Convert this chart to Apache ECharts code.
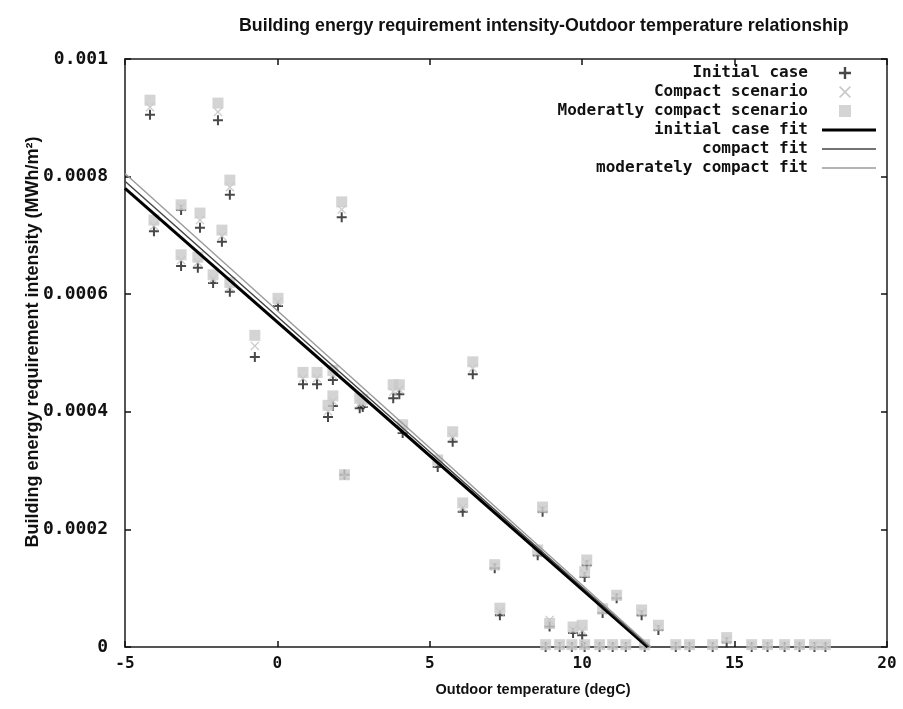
<!DOCTYPE html>
<html>
<head>
<meta charset="utf-8">
<script src="https://cdn.jsdelivr.net/npm/echarts@6/dist/echarts.min.js"></script>
<style>
  html, body { margin: 0; padding: 0; background: #fff; }
  #chart-panel { width: 903px; height: 709px; }
</style>
</head>
<body>
<div id="chart-panel"></div>
<script>
// outdoor temperature (degC) for each sample
var temps = [
  -4.18, -4.05, -3.16, -3.16, -2.61, -2.54, -2.11, -1.95, -1.82, -1.56,
  -1.56, -0.74, 0.02, 0.84, 1.30, 1.82, 1.66, 1.82, 2.11, 2.20,
  2.70, 2.80, 3.80, 4.00, 4.11, 5.75, 5.26, 6.08, 6.41, 7.30,
  7.13, 8.70, 8.54, 10.15, 10.08, 9.70, 10.00, 11.13, 10.67, 11.95,
  12.50, 8.93, 8.80, 9.26, 9.66, 10.08, 10.57, 11.00, 11.43, 12.05,
  13.07, 13.52, 14.28, 14.74, 15.56, 16.08, 16.64, 17.13, 17.62, 17.98
];
var initialCase = [
  0.000905, 0.000707, 0.000743, 0.000648, 0.000645, 0.000713, 0.000619, 0.000896, 0.000689, 0.000604,
  0.000769, 0.000493, 0.000580, 0.000447, 0.000447, 0.000454, 0.000391, 0.000410, 0.000731, 0.000293,
  0.000406, 0.000408, 0.000423, 0.000430, 0.000364, 0.000349, 0.000306, 0.000230, 0.000464, 0.000054,
  0.000134, 0.000230, 0.000156, 0.000139, 0.000119, 0.000024, 0.000020, 0.000083, 0.000058, 0.000054,
  0.000029, 0.000035, 0, 0, 0, 0, 0, 0, 0, 0,
  0, 0, 0, 0.000008, 0, 0, 0, 0, 0, 0
];
var compactScenario = [
  0.000918, 0.000716, 0.000748, 0.000658, 0.000654, 0.000726, 0.000626, 0.000910, 0.000699, 0.000612,
  0.000782, 0.000512, 0.000587, 0.000457, 0.000457, 0.000462, 0.000401, 0.000418, 0.000744, 0.000291,
  0.000414, 0.000415, 0.000434, 0.000438, 0.000371, 0.000357, 0.000312, 0.000237, 0.000474, 0.000060,
  0.000137, 0.000234, 0.000160, 0.000143, 0.000124, 0.000029, 0.000028, 0.000086, 0.000062, 0.000058,
  0.000033, 0.000046, 0.000002, 0.000003, 0.000002, 0.000003, 0.000002, 0.000002, 0.000003, 0.000002,
  0.000003, 0.000002, 0.000003, 0.000012, 0.000002, 0.000003, 0.000002, 0.000002, 0.000003, 0.000002
];
var moderatelyCompact = [
  0.000930, 0.000726, 0.000752, 0.000667, 0.000663, 0.000738, 0.000633, 0.000925, 0.000709, 0.000620,
  0.000794, 0.000530, 0.000593, 0.000467, 0.000467, 0.000470, 0.000411, 0.000427, 0.000757, 0.000293,
  0.000423, 0.000421, 0.000446, 0.000446, 0.000378, 0.000366, 0.000318, 0.000245, 0.000485, 0.000066,
  0.000140, 0.000238, 0.000165, 0.000148, 0.000128, 0.000034, 0.000037, 0.000088, 0.000065, 0.000063,
  0.000037, 0.000040, 0.000004, 0.000004, 0.000004, 0.000004, 0.000004, 0.000004, 0.000004, 0.000004,
  0.000004, 0.000004, 0.000004, 0.000016, 0.000004, 0.000004, 0.000004, 0.000004, 0.000004, 0.000004
];

// linear fits y = slope * x + intercept
var fitNames = ['initial case fit', 'compact fit', 'moderately compact fit'];
var fitSlope = [-4.548e-5, -4.605e-5, -4.667e-5];
var fitIntercept = [0.0005526, 0.000562, 0.000572];
var fitColors = ['#000', '#444', '#9a9a9a'];
var fitWidths = [3, 1.4, 1.4];

var xMin = -5, xMax = 20;
var mono = 'DejaVu Sans Mono';
var plusIcon = 'path://M4,0H6V4H10V6H6V10H4V6H0V4H4Z';
var crossIcon = 'path://M0,1L1,0L5,4L9,0L10,1L6,5L10,9L9,10L5,6L1,10L0,9L4,5Z';

function pairs(ys) {
  return temps.map(function (t, i) { return [t, ys[i]]; });
}
function fitLine(k) {
  var x0 = -fitIntercept[k] / fitSlope[k];
  return [[xMin, fitSlope[k] * xMin + fitIntercept[k]], [Math.min(x0, xMax), 0]];
}

var legendText = { fontFamily: mono, fontWeight: 'bold', fontSize: 16, lineHeight: 16, color: '#111' };
var tickStyle = { show: true, inside: true, length: 6, lineStyle: { color: '#111', width: 1.5 } };
var lineStyleAxis = { color: '#555', width: 2 };

// one legend per fit line so each icon gets the line's own thickness
var fitLegends = fitNames.map(function (name, k) {
  return {
    orient: 'vertical',
    align: 'right',
    right: 27,
    top: 122 + k * 19,
    padding: 0,
    itemWidth: 54,
    itemHeight: fitWidths[k],
    icon: 'rect',
    selectedMode: false,
    textStyle: Object.assign({ padding: [0, 9, 0, 0] }, legendText),
    data: [name]
  };
});

var fitSeries = fitNames.map(function (name, k) {
  return {
    name: name,
    type: 'line',
    symbol: 'none',
    z: 5,
    lineStyle: { color: fitColors[k], width: fitWidths[k] },
    itemStyle: { color: fitColors[k] },
    data: fitLine(k)
  };
});

option = {
  backgroundColor: '#fff',
  animation: false,
  title: {
    text: 'Building energy requirement intensity-Outdoor temperature relationship',
    left: 234,
    top: 12,
    textStyle: { fontFamily: 'Liberation Sans', fontWeight: 'bold', fontSize: 17.8, color: '#111' }
  },
  grid: { left: 125, right: 16, top: 59, bottom: 62 },
  legend: [{
    orient: 'vertical',
    align: 'right',
    right: 52,
    top: 65,
    padding: 0,
    itemGap: 3,
    itemWidth: 12,
    itemHeight: 12,
    selectedMode: false,
    textStyle: Object.assign({ padding: [0, 26, 0, 0] }, legendText),
    data: ['Initial case', 'Compact scenario', 'Moderatly compact scenario']
  }].concat(fitLegends),
  xAxis: [{
    type: 'value',
    min: xMin,
    max: xMax,
    interval: 5,
    position: 'bottom',
    axisLine: { show: true, onZero: false, lineStyle: lineStyleAxis },
    axisTick: tickStyle,
    splitLine: { show: false },
    axisLabel: { margin: 9, fontFamily: mono, fontWeight: 'bold', fontSize: 16, color: '#111' }
  }, {
    type: 'value',
    min: xMin,
    max: xMax,
    interval: 5,
    position: 'top',
    axisLine: { show: true, onZero: false, lineStyle: lineStyleAxis },
    axisTick: tickStyle,
    splitLine: { show: false },
    axisLabel: { show: false }
  }],
  yAxis: [{
    type: 'value',
    min: 0,
    max: 0.001,
    interval: 0.0002,
    position: 'left',
    axisLine: { show: true, onZero: false, lineStyle: lineStyleAxis },
    axisTick: tickStyle,
    splitLine: { show: false },
    axisLabel: { margin: 17, fontFamily: mono, fontWeight: 'bold', fontSize: 18, color: '#111' }
  }, {
    type: 'value',
    min: 0,
    max: 0.001,
    interval: 0.0002,
    position: 'right',
    axisLine: { show: true, onZero: false, lineStyle: lineStyleAxis },
    axisTick: tickStyle,
    splitLine: { show: false },
    axisLabel: { show: false }
  }],
  graphic: [{
    type: 'text',
    x: 33,
    y: 342,
    rotation: Math.PI / 2,
    style: {
      text: 'Building energy requirement intensity (MWh/m²)',
      fontFamily: 'Liberation Sans',
      fontWeight: 'bold',
      fontSize: 18,
      fill: '#111',
      textAlign: 'center',
      textVerticalAlign: 'middle'
    }
  }, {
    type: 'text',
    x: 533,
    y: 690,
    style: {
      text: 'Outdoor temperature (degC)',
      fontFamily: 'Liberation Sans',
      fontWeight: 'bold',
      fontSize: 14.5,
      fill: '#111',
      textAlign: 'center',
      textVerticalAlign: 'middle'
    }
  }],
  series: [{
    name: 'Initial case',
    type: 'scatter',
    symbol: plusIcon,
    symbolSize: 10,
    itemStyle: { color: '#1a1a1a' },
    z: 2,
    data: pairs(initialCase)
  }, {
    name: 'Compact scenario',
    type: 'scatter',
    symbol: crossIcon,
    symbolSize: 9,
    itemStyle: { color: '#bdbdbd' },
    z: 3,
    data: pairs(compactScenario)
  }, {
    name: 'Moderatly compact scenario',
    type: 'scatter',
    symbol: 'rect',
    symbolSize: 11,
    itemStyle: { color: '#c9c9c9' },
    z: 4,
    data: pairs(moderatelyCompact)
  }].concat(fitSeries)
};

var chart = echarts.init(document.getElementById('chart-panel'));
chart.setOption(option);
</script>
</body>
</html>
